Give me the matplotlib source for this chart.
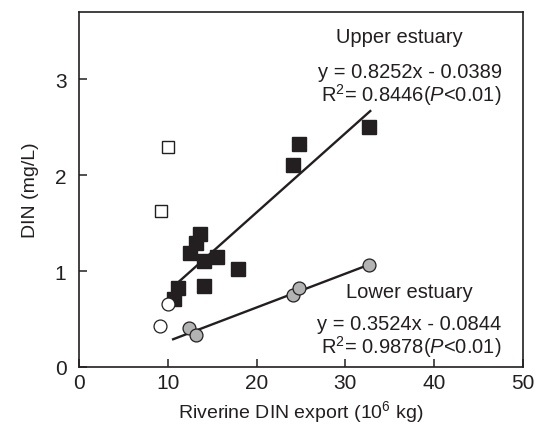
import numpy as np
import matplotlib
matplotlib.use('Agg')
import matplotlib.pyplot as plt

plt.rcParams['font.family'] = ['Liberation Sans', 'DejaVu Sans']
plt.rcParams['mathtext.fontset'] = 'custom'
plt.rcParams['mathtext.rm'] = 'Liberation Sans'
plt.rcParams['mathtext.it'] = 'Liberation Sans:italic'

# upper estuary (filled squares), outliers (open squares)
up_x = [24.8, 24.1, 32.7, 13.6, 13.2, 12.5, 14.1, 15.5, 17.9, 14.1, 11.1, 10.7]
up_y = [2.32, 2.11, 2.50, 1.39, 1.29, 1.19, 1.11, 1.15, 1.02, 0.84, 0.82, 0.71]
up_out_x = [10.0, 9.2]
up_out_y = [2.29, 1.63]

# lower estuary (grey circles), outliers (open circles)
lo_x = [12.4, 13.2, 24.1, 24.8, 32.7]
lo_y = [0.41, 0.33, 0.75, 0.82, 1.065]
lo_out_x = [10.0, 9.1]
lo_out_y = [0.66, 0.43]

# regressions (x in 10^7 kg in the equations)
up_fit = (0.8252, -0.0389)
lo_fit = (0.3524, -0.0844)
up_fit_range = [10.8, 32.8]
lo_fit_range = [10.6, 32.7]

ink = '#231f20'

fig = plt.figure(figsize=(5.42, 4.31), dpi=100)
ax = fig.add_axes([79/542, 1-368/431, (523-79)/542, (368-13)/431])

xf = np.array(up_fit_range)
ax.plot(xf, up_fit[0]*xf/10 + up_fit[1], color=ink, lw=1.7, zorder=1)
xf = np.array(lo_fit_range)
ax.plot(xf, lo_fit[0]*xf/10 + lo_fit[1], color=ink, lw=1.7, zorder=1)

ax.plot(up_x, up_y, 's', ms=9.8, color=ink, mec=ink, zorder=3)
ax.plot(up_out_x, up_out_y, 's', ms=8.8, mfc='white', mec=ink, mew=1.0, zorder=3)
ax.plot(lo_x, lo_y, 'o', ms=9.3, mfc='#b3b3b3', mec=ink, mew=0.9, zorder=3)
ax.plot(lo_out_x, lo_out_y, 'o', ms=9.3, mfc='white', mec=ink, mew=0.9, zorder=3)

fs = 14.5
ax.text(36.1, 3.44, 'Upper estuary', fontsize=fs, ha='center', va='center', color=ink)
ax.text(47.6, 3.08, 'y = 0.8252x - 0.0389', fontsize=fs, ha='right', va='center', color=ink)
ax.text(47.6, 2.84, r'R$^2$= 0.8446($\it{P}$<0.01)', fontsize=fs, ha='right', va='center', color=ink)
ax.text(37.2, 0.79, 'Lower estuary', fontsize=fs, ha='center', va='center', color=ink)
ax.text(47.6, 0.45, 'y = 0.3524x - 0.0844', fontsize=fs, ha='right', va='center', color=ink)
ax.text(47.6, 0.22, r'R$^2$= 0.9878($\it{P}$<0.01)', fontsize=fs, ha='right', va='center', color=ink)

ax.set_xlim(0, 50)
ax.set_ylim(0, 3.7)
ax.set_xticks([0, 10, 20, 30, 40, 50])
ax.set_yticks([0, 1, 2, 3])
ax.tick_params(direction='in', length=6, width=1.1, labelsize=15, colors=ink)
ax.tick_params(axis='x', pad=4)
ax.tick_params(axis='y', pad=9)
for s in ax.spines.values():
    s.set_linewidth(1.2)
    s.set_color(ink)

ax.set_xlabel('Riverine DIN export (10$^6$ kg)', fontsize=14, color=ink, labelpad=5)
ax.set_ylabel('DIN (mg/L)', fontsize=14, color=ink, labelpad=11)

fig.savefig('out.png', dpi=100)
